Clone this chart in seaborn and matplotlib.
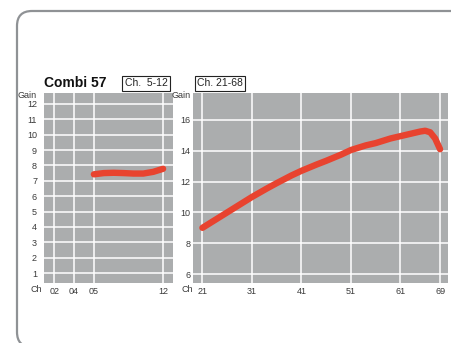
import numpy as np
import pandas as pd
import matplotlib
matplotlib.use("Agg")
import matplotlib.pyplot as plt
from matplotlib.patches import FancyBboxPatch
import seaborn as sns

# Ch. 5-12 band (left panel)
low_ch = [5, 6, 7, 8, 9, 10, 11, 12]
low_gain = [7.42, 7.50, 7.52, 7.50, 7.47, 7.47, 7.58, 7.78]
low_xticks = [2, 4, 5, 12]
low_xticklabels = ["02", "04", "05", "12"]
low_yticks = list(range(1, 13))

# Ch. 21-68 band (right panel)
high_ch = [21, 24, 26, 29, 31, 34, 36, 39, 41, 44, 46, 49, 51, 54, 56, 59, 61, 63, 65, 66, 67, 68, 69]
high_gain = [9.0, 9.6, 10.0, 10.6, 11.0, 11.55, 11.9, 12.4, 12.7, 13.1, 13.35, 13.75, 14.05,
             14.35, 14.5, 14.8, 14.95, 15.1, 15.25, 15.3, 15.2, 14.8, 14.1]
high_xticks = [21, 31, 41, 51, 61, 69]
high_yticks = [6, 8, 10, 12, 14, 16]

title = "Combi 57"
band_labels = ["Ch.  5-12", "Ch. 21-68"]

RED = "#e8432f"
PANEL = "#abadae"
TXT = "#3a3a3a"

sns.set_style("white", {"axes.facecolor": PANEL, "grid.color": "white",
                        "axes.edgecolor": PANEL})
plt.rcParams["font.family"] = ["Liberation Sans", "DejaVu Sans"]

W, H = 452, 343
fig = plt.figure(figsize=(W / 100, H / 100), dpi=100)


def px_axes(x0, y0, x1, y1):
    return fig.add_axes([x0 / W, 1 - y1 / H, (x1 - x0) / W, (y1 - y0) / H])


# channels 02/04/05 are drawn evenly spaced, so stretch the 4..5 step
_src = [0, 4, 5, 30]
_dst = [0, 4, 6, 31]


def fwd(x):
    return np.interp(x, _src, _dst)


def inv(x):
    return np.interp(x, _dst, _src)


ax1 = px_axes(44, 93, 173, 283)
ax1.set_xscale("function", functions=(fwd, inv))
df_low = pd.DataFrame({"ch": low_ch, "gain": low_gain})
sns.lineplot(data=df_low, x="ch", y="gain", ax=ax1, color=RED, lw=4.6,
             solid_capstyle="round")
ax1.set_xlim(0.96, 13.0)
ax1.set_ylim(0.35, 12.71)
ax1.set_xticks(low_xticks, low_xticklabels)
ax1.set_yticks(low_yticks)
ax1.minorticks_off()

ax2 = px_axes(193, 93, 448, 283)
df_high = pd.DataFrame({"ch": high_ch, "gain": high_gain})
sns.lineplot(data=df_high, x="ch", y="gain", ax=ax2, color=RED, lw=4.6,
             solid_capstyle="round")
ax2.set_xlim(19.1, 70.6)
ax2.set_ylim(5.42, 17.75)
ax2.set_xticks(high_xticks)
ax2.set_yticks(high_yticks)

for ax, ypad in ((ax1, 5), (ax2, 2)):
    ax.grid(True, color="white", lw=1.1)
    ax.set_axisbelow(True)
    ax.set_xlabel("")
    ax.set_ylabel("")
    ax.tick_params(length=0, labelsize=6.5, labelcolor=TXT)
    ax.tick_params(axis="y", pad=ypad)
    ax.tick_params(axis="x", pad=3)
    for s in ax.spines.values():
        s.set_visible(False)

fig.text(37 / W, 1 - 96 / H, "Gain", fontsize=6.5, color=TXT, ha="right", va="center")
fig.text(191 / W, 1 - 96 / H, "Gain", fontsize=6.5, color=TXT, ha="right", va="center")
fig.text(42 / W, 1 - 290 / H, "Ch", fontsize=6.5, color=TXT, ha="right", va="center")
fig.text(193 / W, 1 - 290 / H, "Ch", fontsize=6.5, color=TXT, ha="right", va="center")

fig.text(44 / W, 1 - 83 / H, title, fontsize=10, fontweight="bold", color="#111111",
         ha="left", va="center")
box = dict(boxstyle="square,pad=0.22", fc="white", ec="#222222", lw=0.8)
fig.text(146 / W, 1 - 83.5 / H, band_labels[0], fontsize=7.5, color="#222222",
         ha="center", va="center", bbox=box)
fig.text(220 / W, 1 - 83.5 / H, band_labels[1], fontsize=7.5, color="#222222",
         ha="center", va="center", bbox=box)

frame = FancyBboxPatch((0.17, -0.04), 4.50, 3.36,
                       boxstyle="round,pad=0,rounding_size=0.15",
                       transform=fig.dpi_scale_trans, fc="none", ec="#8f9295", lw=1.6)
fig.patches.append(frame)

fig.savefig("out.png", dpi=100)
